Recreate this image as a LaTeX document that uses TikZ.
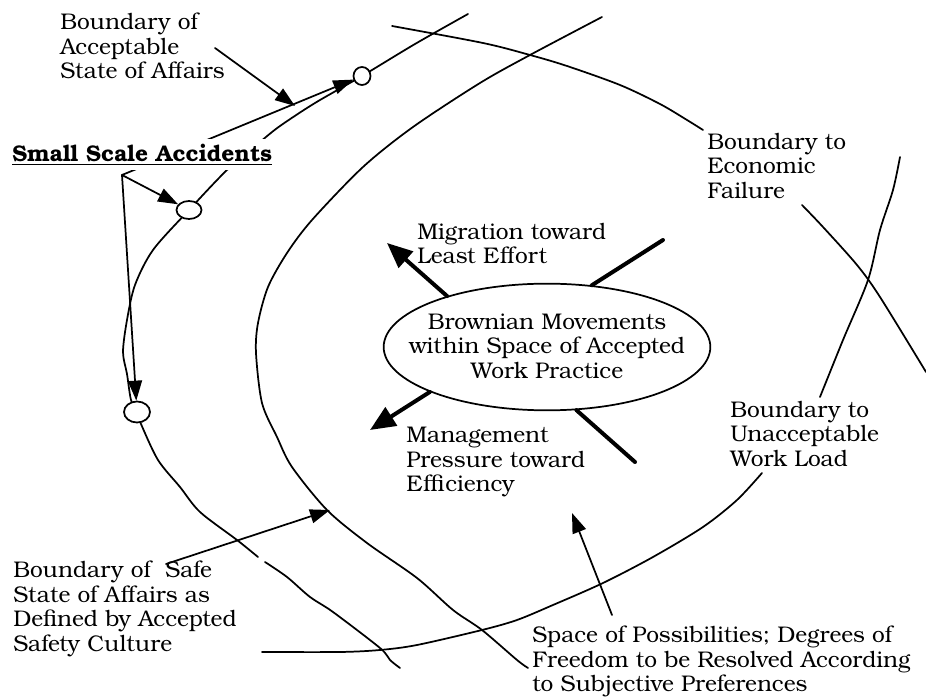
\documentclass[tikz,border=0pt]{standalone}
\usepackage{fontspec}
\setmainfont{TeX Gyre Bonum}
\usetikzlibrary{arrows.meta,shapes.geometric}

\begin{document}
\begin{tikzpicture}[x=0.75pt,y=-0.75pt,
  curve/.style={line width=1.3pt, line join=round, line cap=round},
  heavy/.style={line width=3pt, line cap=round},
  txt/.style={font=\fontsize{17}{18.3}\selectfont},
  lbl/.style={txt, align=left, inner sep=0pt, anchor=north west},
  tip/.style={-{Triangle[length=15pt,width=10.5pt]}},
  bigtip/.style={-{Triangle[length=19pt,width=16pt]}},
  dot/.style={ellipse, draw, line width=1.3pt, fill=white, inner sep=0pt},
]
\useasboundingbox (0,0) rectangle (926,698);
\fill[white] (0,0) rectangle (926,698);

% boundary of acceptable state of affairs (passes through the three incident marks)
\draw[curve] plot[smooth] coordinates {(468,14) (415,44) (362,76) (315,103) (280,126)
  (260,142) (227,170) (189,210) (153,250) (135,285) (127,320) (123,352) (127,374)
  (131,400) (137,412) (141,424) (158,460) (180,487) (200,512) (237,540) (258,557)};
\draw[curve] plot[smooth] coordinates {(265,562) (287,577) (310,597) (333,612)
  (380,648) (390,660) (400,668)};

% boundary of safe state as defined by accepted safety culture
\draw[curve] plot[smooth] coordinates {(602,17) (530,55) (480,83) (413,127) (363,167)
  (312,220) (287,253) (268,287) (258,323) (256,353) (262,403) (277,437) (292,467)
  (327,510) (367,543) (417,578) (453,610) (482,630) (517,660) (528,668)};

% boundary to economic failure
\draw[curve] plot[smooth] coordinates {(392,26) (483,43) (530,55) (567,66) (620,85)
  (660,104) (687,120) (703,130)};
\draw[curve] plot[smooth] coordinates {(802,205) (823,227) (857,265) (880,297) (926,372)};

% boundary to unacceptable work load
\draw[curve] plot[smooth] coordinates {(262,652) (340,652) (380,650) (417,645) (482,630)
  (517,620) (553,605) (603,583) (653,557) (703,527) (737,500) (762,473)};
\draw[curve] plot[smooth] coordinates {(820,397) (843,340) (868,280) (880,230) (893,190) (900,157)};

% incident marks
\node[dot, minimum width=12.75pt, minimum height=13.5pt] (c1) at (362,76) {};
\node[dot, minimum width=18.75pt, minimum height=13.5pt] (c2) at (189,210) {};
\node[dot, minimum width=19.5pt, minimum height=15.75pt] (c3) at (137,412) {};

% central work space
\node[ellipse, draw, line width=1.3pt, minimum width=245pt, minimum height=95pt, inner sep=0pt] (core) at (547,347) {};
\node[txt, align=center, inner sep=0pt] (coretext) at (547,346)
  {Brownian Movements\\within Space of Accepted\\Work Practice};

\coordinate (migtip) at (387,243);
\coordinate (ne) at (663,240);
\coordinate (mgtip) at (370,430);
\coordinate (se) at (635,462);
\draw[heavy, bigtip] (core.153) -- (migtip);
\draw[heavy] (core.54) -- (ne);
\draw[heavy, bigtip] (core.201) -- (mgtip);
\draw[heavy] (core.295) -- (se);

% small scale accidents
\coordinate (ssa) at (122,175);
\draw[curve, tip] (ssa) -- (c1);
\draw[curve, tip] (ssa) -- (c2);
\draw[curve, tip] (ssa) -- (c3);
\node[lbl, anchor=base west, fill=white, inner xsep=3pt, inner ysep=4pt] (ssatext) at (8,162)
  {\textbf{\underline{Small Scale Accidents}}};

% labels
\node[lbl] (acc) at (60,13) {Boundary of\\Acceptable\\State of Affairs};
\coordinate (accfrom) at (215,48);
\coordinate (accto) at (295,106);
\draw[curve, tip] (accfrom) -- (accto);

\node[lbl] (mig) at (417,223) {Migration toward\\Least Effort};
\node[lbl] (mgmt) at (406,427) {Management\\Pressure toward\\Efficiency};
\node[lbl] (econ) at (707,133) {Boundary to\\Economic\\Failure};
\node[lbl] (load) at (730,401) {Boundary to\\Unacceptable\\Work Load};

\node[lbl] (safe) at (13,561) {Boundary of\ \ Safe\\State of Affairs as\\Defined by Accepted\\Safety Culture};
\coordinate (safefrom) at (166,564);
\coordinate (safeto) at (330,510);
\draw[curve, tip] (safefrom) -- (safeto);

\node[lbl] (space) at (532,626) {Space of Possibilities; Degrees of\\Freedom to be Resolved According\\to Subjective Preferences};
\coordinate (spacefrom) at (612,615);
\coordinate (spaceto) at (572,513);
\draw[curve, tip] (spacefrom) -- (spaceto);
\end{tikzpicture}
\end{document}
